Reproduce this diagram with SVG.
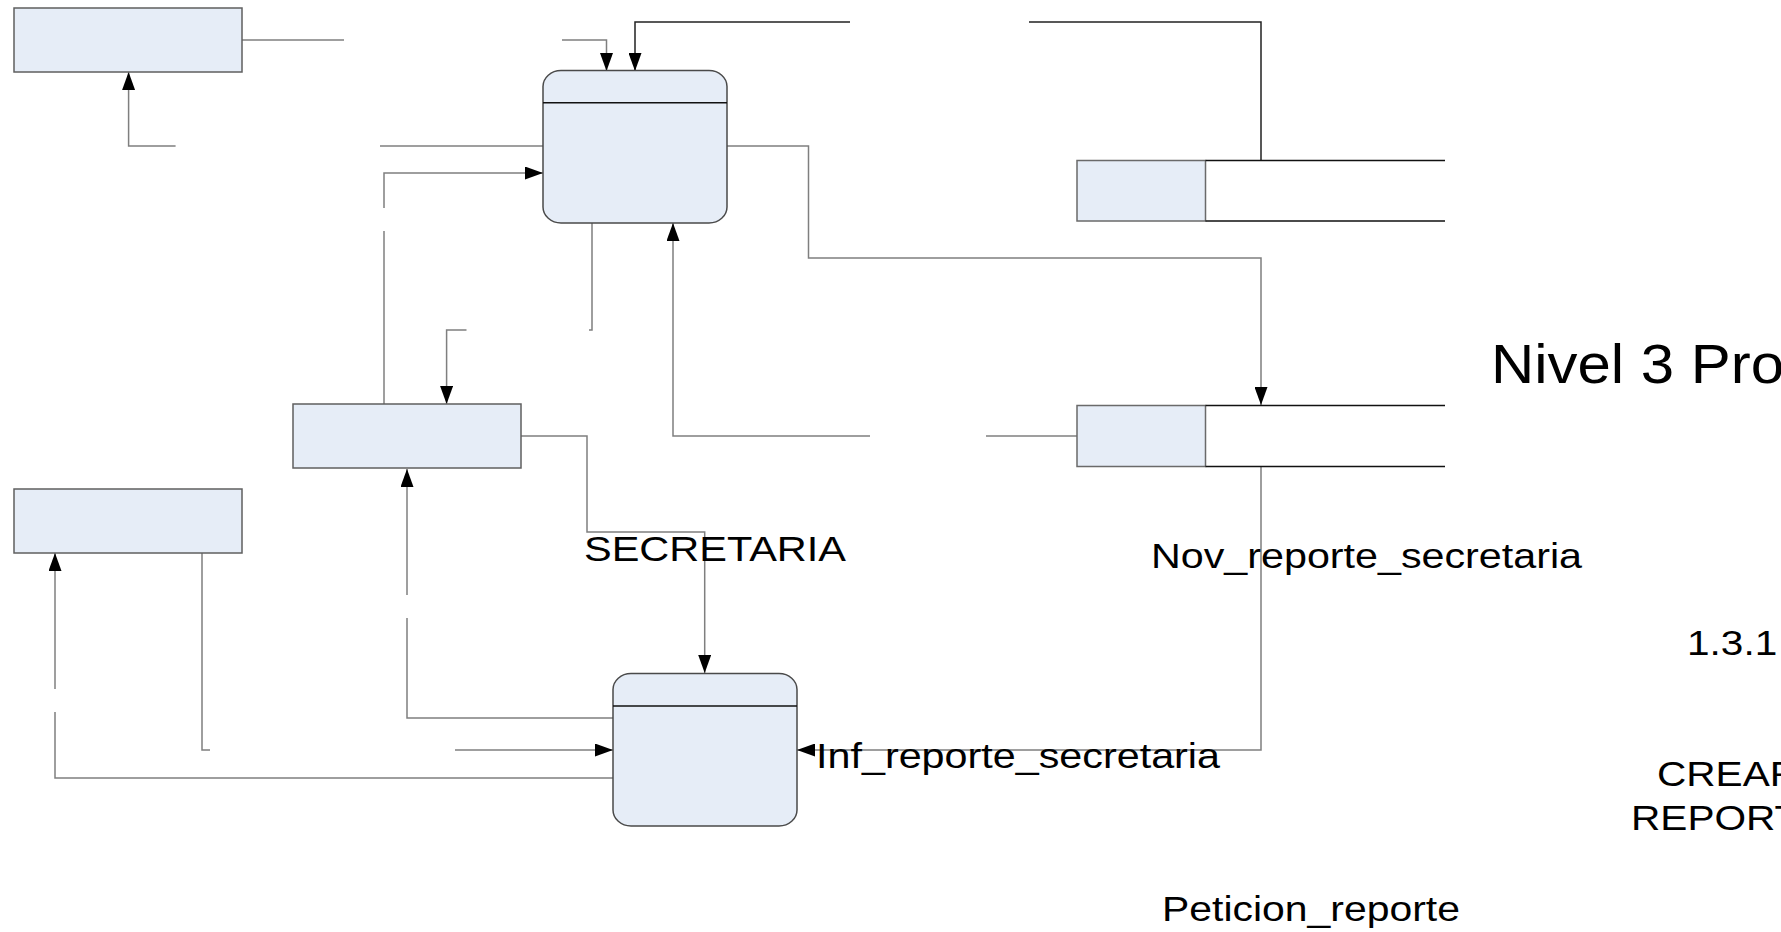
<svg xmlns="http://www.w3.org/2000/svg" width="1781" height="932" viewBox="0 0 1781 932">
<style>
.bg{fill:#ffffff}
.ent{fill:#e6edf7;stroke:#5f5f5f;stroke-width:1.5}
.proc{fill:#e6edf7;stroke:#4a4a4a;stroke-width:1.5}
.hdr{stroke:#111;stroke-width:1.5;fill:none}
.sfill{fill:#e6edf7;stroke:#6a6a6a;stroke-width:1.5}
.sline{stroke:#111;stroke-width:1.5;fill:none}
.c{fill:none;stroke:#7f7f7f;stroke-width:1.5}
.cd{fill:none;stroke:#222;stroke-width:1.5}
.t{font-family:"Liberation Sans",Arial,sans-serif;font-size:35px;fill:#000}
.tb{font-family:"Liberation Sans",Arial,sans-serif;font-size:56px;fill:#000}
</style>
<defs>
<marker id="ar" markerUnits="userSpaceOnUse" markerWidth="18" markerHeight="13" refX="18" refY="6.5" orient="auto">
<path d="M0,0 L18,6.5 L0,13 Z" fill="#000"/>
</marker>
</defs>
<rect class="bg" x="0" y="0" width="1781" height="932"/>

<g id="connectors">
<path class="c" d="M242,40 H344"/>
<path class="c" d="M562,40 H606.5 V71" marker-end="url(#ar)"/>
<path class="cd" d="M850,22 H635 V71" marker-end="url(#ar)"/>
<path class="cd" d="M1029,22 H1261 V160"/>
<path class="c" d="M175.6,146 H128.6 V72" marker-end="url(#ar)"/>
<path class="c" d="M380,146 H543"/>
<path class="c" d="M384,404 V231"/>
<path class="c" d="M384,208 V173 H543" marker-end="url(#ar)"/>
<path class="c" d="M466.5,330 H446.6 V404" marker-end="url(#ar)"/>
<path class="c" d="M592,223 V330 H589"/>
<path class="c" d="M727,146 H808.5 V258 H1261 V405" marker-end="url(#ar)"/>
<path class="c" d="M870,436 H673 V223" marker-end="url(#ar)"/>
<path class="c" d="M986,436 H1077"/>
<path class="c" d="M521,436 H587 V532 H704.7 V673" marker-end="url(#ar)"/>
<path class="c" d="M1261,467 V750 H797" marker-end="url(#ar)"/>
<path class="c" d="M202,553 V750 H210"/>
<path class="c" d="M455,750 H613" marker-end="url(#ar)"/>
<path class="c" d="M613,718 H407 V618"/>
<path class="c" d="M407,595 V469" marker-end="url(#ar)"/>
<path class="c" d="M613,778 H55 V712"/>
<path class="c" d="M55,689 V553" marker-end="url(#ar)"/>
</g>

<g id="entity-a"><rect class="ent" x="14" y="8" width="228" height="64"/></g>
<g id="entity-b"><rect class="ent" x="293" y="404" width="228" height="64"/></g>
<g id="entity-c"><rect class="ent" x="14" y="489" width="228" height="64"/></g>

<g id="process-1">
<rect class="proc" x="543" y="70.5" width="184" height="152.5" rx="18" ry="16"/>
<line class="hdr" x1="543" y1="102.7" x2="727" y2="102.7"/>
</g>
<g id="process-2">
<rect class="proc" x="613" y="673.5" width="184" height="152.5" rx="18" ry="16"/>
<line class="hdr" x1="613" y1="706" x2="797" y2="706"/>
</g>

<g id="store-1">
<rect class="sfill" x="1077" y="160.5" width="128.5" height="60.5"/>
<path class="sline" d="M1205.5,160.5 H1445 M1205.5,221 H1445"/>
</g>
<g id="store-2">
<rect class="sfill" x="1077" y="405.5" width="128.5" height="61"/>
<path class="sline" d="M1205.5,405.5 H1445 M1205.5,466.5 H1445"/>
</g>

<g id="labels">
<text class="t" x="584" y="561" textLength="262" lengthAdjust="spacingAndGlyphs">SECRETARIA</text>
<text class="t" x="1151" y="568" textLength="431" lengthAdjust="spacingAndGlyphs">Nov_reporte_secretaria</text>
<text class="t" x="816" y="768" textLength="404" lengthAdjust="spacingAndGlyphs">Inf_reporte_secretaria</text>
<text class="t" x="1162" y="921" textLength="298" lengthAdjust="spacingAndGlyphs">Peticion_reporte</text>
<text class="t" transform="translate(1687,655) scale(1.16,1)">1.3.1</text>
<text class="t" transform="translate(1657,786) scale(1.16,1)">CREAR</text>
<text class="t" transform="translate(1631,830) scale(1.16,1)">REPORT</text>
<text class="tb" transform="translate(1491,383) scale(1.07,1)">Nivel 3 Pro</text>
</g>
</svg>
